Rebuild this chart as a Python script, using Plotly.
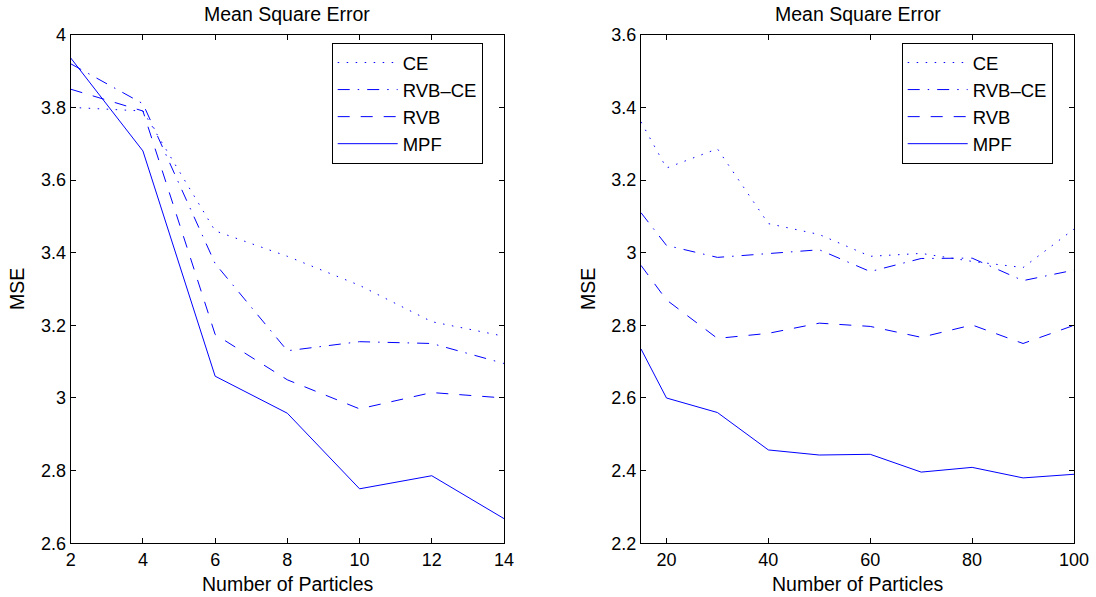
import plotly.graph_objects as go

# ---- data ----
series_names = ["CE", "RVB\u2013CE", "RVB", "MPF"]

x_left = [2, 4, 6, 8, 10, 12, 14]
ce_left = [3.80, 3.79, 3.46, 3.39, 3.31, 3.21, 3.17]
rvbce_left = [3.92, 3.81, 3.37, 3.13, 3.155, 3.15, 3.095]
rvb_left = [3.85, 3.79, 3.175, 3.05, 2.97, 3.015, 3.00]
mpf_left = [3.936, 3.68, 3.06, 2.958, 2.75, 2.786, 2.668]

x_right = [15, 20, 30, 40, 50, 60, 70, 80, 90, 100]
ce_right = [3.36, 3.233, 3.286, 3.08, 3.05, 2.99, 2.998, 2.976, 2.959, 3.065]
rvbce_right = [3.11, 3.02, 2.987, 2.997, 3.008, 2.948, 2.984, 2.985, 2.923, 2.952]
rvb_right = [2.965, 2.87, 2.764, 2.778, 2.806, 2.797, 2.767, 2.801, 2.75, 2.80]
mpf_right = [2.735, 2.60, 2.56, 2.457, 2.443, 2.445, 2.396, 2.409, 2.38, 2.39]

left_xticks = [2, 4, 6, 8, 10, 12, 14]
left_yticks = [2.6, 2.8, 3.0, 3.2, 3.4, 3.6, 3.8, 4.0]
left_ylabels = ["2.6", "2.8", "3", "3.2", "3.4", "3.6", "3.8", "4"]
right_xticks = [20, 40, 60, 80, 100]
right_yticks = [2.2, 2.4, 2.6, 2.8, 3.0, 3.2, 3.4, 3.6]
right_ylabels = ["2.2", "2.4", "2.6", "2.8", "3", "3.2", "3.4", "3.6"]

title_text = "Mean Square Error"
x_title = "Number of Particles"
y_title = "MSE"

# ---- styles ----
W, H = 1096, 597
FONT = "Liberation Sans, Arial, Helvetica, sans-serif"
FS_TICK = 18
FS_TEXT = 19.5
FS_LEG = 18.5
BLUE = "#0000ff"
dashes = ["1.5px,7.5px", "12px,8px,1.5px,8px", "12px,11px", "solid"]

fig = go.Figure()
left_sets = [ce_left, rvbce_left, rvb_left, mpf_left]
right_sets = [ce_right, rvbce_right, rvb_right, mpf_right]
for name, ys, d in zip(series_names, left_sets, dashes):
    fig.add_trace(go.Scatter(x=x_left, y=ys, mode="lines", name=name,
                             line=dict(color=BLUE, width=1, dash=d),
                             xaxis="x", yaxis="y", legend="legend"))
for name, ys, d in zip(series_names, right_sets, dashes):
    fig.add_trace(go.Scatter(x=x_right, y=ys, mode="lines", name=name,
                             line=dict(color=BLUE, width=1, dash=d),
                             xaxis="x2", yaxis="y2", legend="legend2"))

def px_x(p):
    return p / W

def px_y(p):
    return 1 - p / H

axis_common = dict(showline=True, linecolor="black", linewidth=1, mirror="ticks",
                   ticks="inside", ticklen=5, tickcolor="black", showgrid=False,
                   zeroline=False, automargin=False,
                   tickfont=dict(family=FONT, size=FS_TICK, color="black"))

L0, L1 = 70.7, 504.0
R0, R1 = 641.0, 1074.0
T, B = 34.7, 543.3

legend_common = dict(xanchor="left", yanchor="top", bordercolor="black", borderwidth=1,
                     bgcolor="white", font=dict(family=FONT, size=FS_LEG, color="black"),
                     itemwidth=60, tracegroupgap=0)

fig.update_layout(
    width=W, height=H,
    margin=dict(l=0, r=0, t=0, b=0, autoexpand=False),
    paper_bgcolor="white", plot_bgcolor="white",
    font=dict(family=FONT, size=FS_TEXT, color="black"),
    xaxis=dict(domain=[px_x(L0), px_x(L1)], range=[2, 14], tickvals=left_xticks,
               anchor="y", **axis_common),
    yaxis=dict(domain=[px_y(B), px_y(T)], range=[2.6, 4.0], tickvals=left_yticks,
               ticktext=left_ylabels, anchor="x", **axis_common),
    xaxis2=dict(domain=[px_x(R0), px_x(R1)], range=[15, 100], tickvals=right_xticks,
                anchor="y2", **axis_common),
    yaxis2=dict(domain=[px_y(B), px_y(T)], range=[2.2, 3.6], tickvals=right_yticks,
                ticktext=right_ylabels, anchor="x2", **axis_common),
    legend=dict(x=px_x(331.7), y=px_y(43), **legend_common),
    legend2=dict(x=px_x(901.7), y=px_y(43), **legend_common),
    showlegend=True,
)

annos = []
for c0, c1, ylab_x in [(L0, L1, 17), (R0, R1, 588)]:
    cx = (c0 + c1) / 2
    annos.append(dict(text=title_text, x=px_x(cx), y=px_y(14), xref="paper", yref="paper",
                      showarrow=False, xanchor="center", yanchor="middle",
                      font=dict(family=FONT, size=FS_TEXT, color="black")))
    annos.append(dict(text=x_title, x=px_x(cx), y=px_y(584), xref="paper", yref="paper",
                      showarrow=False, xanchor="center", yanchor="middle",
                      font=dict(family=FONT, size=FS_TEXT, color="black")))
    annos.append(dict(text=y_title, x=px_x(ylab_x), y=px_y((T + B) / 2), xref="paper",
                      yref="paper", showarrow=False, xanchor="center", yanchor="middle",
                      textangle=-90, font=dict(family=FONT, size=FS_TEXT, color="black")))
fig.update_layout(annotations=annos)

fig.write_html(
    "out.html",
    config={"displayModeBar": False},
    post_script="document.body.style.margin='0px';document.body.style.overflow='hidden';",
)
